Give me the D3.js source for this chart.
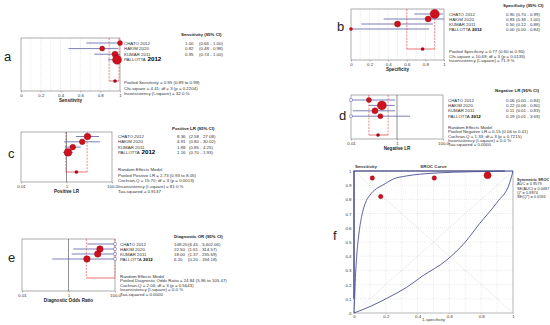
<!DOCTYPE html>
<html lang="en">
<head>
<meta charset="UTF-8">
<title>Forest plots and SROC curve</title>
<script src="https://cdn.jsdelivr.net/npm/d3@7"></script>
<style>
  body { margin: 0; background: #fff; }
  svg { display: block; font-family: "Liberation Sans", Arial, sans-serif; }
  .lbl { font-size: 4.4px; fill: #333; }
  .hdr { font-size: 4.4px; font-weight: bold; fill: #222; }
  .ttl { font-size: 4.6px; font-weight: bold; fill: #222; }
  .tick text { font-size: 4.4px; fill: #333; font-family: "Liberation Sans", Arial, sans-serif; }
  .letter { font-size: 13px; fill: #222; }
  .leg { font-size: 3.9px; fill: #333; }
</style>
</head>
<body>
<svg width="550" height="325"></svg>
<script>
// ---- data ----
const studies = ["CHATO", "HAKIM 2020", "KUMAR 2011", "PALLOTTA"];
const studyYear = ["2012", "", "", "2012"];

const sensEst = [1.00, 0.82, 0.95, 0.97];
const sensLo = [0.66, 0.48, 0.74, 0.88];
const sensHi = [1.00, 0.98, 1.00, 1.00];
const sensW = [15, 15, 22, 48];
const sensVal = [["1.00", "(0.66 - 1.00)"], ["0.82", "(0.48 - 0.98)"], ["0.95", "(0.74 - 1.00)"]];
const sensPooled = [0.95, 0.89, 0.99];
const sensStats = ["Pooled Sensitivity = 0.95 (0.89 to 0.99)", "Chi-square = 4.41; df = 3 (p = 0.2204)", "Inconsistency (I-square) = 32.0 %"];

const specEst = [0.90, 0.83, 0.50, 0.00];
const specLo = [0.68, 0.35, 0.11, 0.00];
const specHi = [0.99, 1.00, 0.88, 0.84];
const specW = [50, 22, 22, 6];
const specVal = [["0.90", "(0.70 - 0.99)"], ["0.83", "(0.36 - 1.00)"], ["0.50", "(0.12 - 0.88)"], ["0.00", "(0.00 - 0.84)"]];
const specPooled = [0.77, 0.60, 0.90];
const specStats = ["Pooled Specificity = 0.77 (0.60 to 0.90)", "Chi-square = 10.69; df = 3 (p = 0.0135)", "Inconsistency (I-square) = 71.9 %"];

const plrEst = [8.36, 4.91, 1.89, 1.16];
const plrLo = [2.58, 0.80, 0.85, 0.70];
const plrHi = [27.08, 30.02, 4.25, 1.93];
const plrW = [26, 19, 19, 35];
const plrVal = [["8.36", "(2.58 - 27.08)"], ["4.91", "(0.80 - 30.02)"], ["1.89", "(0.85 - 4.25)"], ["1.16", "(0.70 - 1.93)"]];
const plrPooled = [2.73, 0.93, 8.05];
const plrStats = ["Random Effects Model", "Pooled Positive LR = 2.73 (0.93 to 8.05)", "Cochran-Q = 15.70; df = 3 (p = 0.0013)", "Inconsistency (I-square) = 81.0 %", "Tau-squared = 0.9137"];

const nlrEst = [0.06, 0.22, 0.11, 0.19];
const nlrLo = [0.005, 0.06, 0.012, 0.009];
const nlrHi = [0.84, 0.80, 0.83, 3.69];
const nlrW = [15, 48, 22, 15];
const nlrVal = [["0.06", "(0.00 - 0.84)"], ["0.22", "(0.06 - 0.80)"], ["0.11", "(0.01 - 0.83)"], ["0.19", "(0.01 - 3.69)"]];
const nlrPooled = [0.15, 0.06, 0.41];
const nlrStats = ["Random Effects Model", "Pooled Negative LR = 0.15 (0.06 to 0.41)", "Cochran-Q = 1.33; df = 3 (p = 0.7215)", "Inconsistency (I-square) = 0.0 %", "Tau-squared = 0.0000"];

const dorEst = [148.20, 22.50, 18.00, 6.20];
const dorLo = [6.45, 1.61, 1.37, 0.20];
const dorHi = [3402.06, 314.57, 235.69, 194.18];
const dorW = [25, 25, 25, 25];
const dorVal = [["148.20", "(6.45 - 3,402.06)"], ["22.50", "(1.61 - 314.57)"], ["18.00", "(1.37 - 235.69)"], ["6.20", "(0.20 - 194.18)"]];
const dorPooled = [24.84, 5.86, 105.47];
const dorStats = ["Random Effects Model", "Pooled Diagnostic Odds Ratio = 24.84 (5.86 to 105.47)", "Cochran-Q = 2.04; df = 3 (p = 0.5643)", "Inconsistency (I-square) = 0.0 %", "Tau-squared = 0.0000"];

// SROC (x = 1-specificity, y = sensitivity)
const srocFpr = [0.115, 0.168, 0.505, 0.84];
const srocTpr = [0.95, 0.82, 0.95, 0.97];
const srocW = [12, 12, 12, 30];
const srocCurve = [[0, 0], [0.004, 0.1], [0.009, 0.25], [0.017, 0.40], [0.03, 0.55], [0.048, 0.68], [0.07, 0.77], [0.10, 0.83], [0.14, 0.875], [0.18, 0.90], [0.25, 0.945], [0.33, 0.965], [0.5, 0.985], [0.75, 0.995], [1, 1]];
const srocLower = [[0, 0], [0.1, 0.045], [0.226, 0.115], [0.33, 0.18], [0.43, 0.26], [0.58, 0.37], [0.7, 0.50], [0.79, 0.63], [0.9, 0.78], [0.98, 0.92], [1, 1]];
const srocBand = [[0, 0.1], [0, 1], [0.95, 1]];
const srocStats = ["Symmetric SROC", "AUC = 0.9579", "SE(AUC) = 0.0487", "Q* = 0.8974", "SE(Q*) = 0.0594"];

const linTicks = [0, 0.2, 0.4, 0.6, 0.8, 1];
const logTicks = [0.01, 1, 100];
const logTickText = ["0.01", "1", "100.0"];

// ---- drawing ----
const svg = d3.select("svg");
const rScale = d3.scaleSqrt().domain([0, 50]).range([0, 4.6]);
const ciColor = "#5c61a3";
const red = "#d0101c";

function forest(o) {
  const g = svg.append("g");
  const x = (o.log ? d3.scaleLog() : d3.scaleLinear()).domain(o.domain).range([o.x0, o.x1]);
  const cx = v => x(Math.max(o.domain[0], Math.min(o.domain[1], v)));
  const rowY = i => o.y0 + o.rowTop + i * o.rowStep;

  // grid lines
  if (!o.log) {
    g.selectAll(".grid").data(d3.range(1, 10).map(d => d / 10)).join("line")
      .attr("x1", d => x(d)).attr("x2", d => x(d))
      .attr("y1", o.y0).attr("y2", o.y1)
      .attr("stroke", "#c8c8c8").attr("stroke-width", 0.4).attr("stroke-dasharray", "1,1");
  }
  g.append("rect").attr("x", o.x0).attr("y", o.y0)
    .attr("width", o.x1 - o.x0).attr("height", o.y1 - o.y0)
    .attr("fill", "none").attr("stroke", "#777").attr("stroke-width", 0.6);
  if (o.log) {
    g.append("line").attr("x1", x(1)).attr("x2", x(1)).attr("y1", o.y0).attr("y2", o.y1)
      .attr("stroke", "#444").attr("stroke-width", 0.6);
  }

  // axis
  const axis = d3.axisBottom(x).tickSize(1.5).tickPadding(1.2)
    .tickValues(o.log ? logTicks : linTicks)
    .tickFormat((d, i) => o.log ? logTickText[i] : d3.format("")(d));
  const ag = g.append("g").attr("transform", `translate(0,${o.y1})`).call(axis);
  ag.select(".domain").remove();
  ag.selectAll(".tick line").attr("stroke", "#777").attr("stroke-width", 0.5);
  g.append("text").attr("class", "ttl").attr("x", (o.x0 + o.x1) / 2).attr("y", o.y1 + 10.5)
    .attr("text-anchor", "middle").text(o.title);

  // pooled bracket
  const py = o.pooledY;
  [o.pooled[1], o.pooled[2]].forEach(v => {
    g.append("line").attr("x1", cx(v)).attr("x2", cx(v)).attr("y1", o.y0).attr("y2", py)
      .attr("stroke", "#e03a3a").attr("stroke-width", 0.6).attr("stroke-dasharray", "2,1.2");
  });
  g.append("line").attr("x1", cx(o.pooled[1])).attr("x2", cx(o.pooled[2])).attr("y1", py).attr("y2", py)
    .attr("stroke", "#e03a3a").attr("stroke-width", 0.7);
  if (o.pooledDot) {
    g.append("circle").attr("cx", cx(o.pooled[0])).attr("cy", py).attr("r", 1.6)
      .attr("fill", "#b0001a").attr("stroke", "#6a0010").attr("stroke-width", 0.3);
  }

  // study CIs
  o.est.forEach((e, i) => {
    const y = rowY(i);
    g.append("line").attr("x1", cx(o.lo[i])).attr("x2", cx(o.hi[i])).attr("y1", y).attr("y2", y)
      .attr("stroke", ciColor).attr("stroke-width", 0.8);
    [[o.lo[i], o.domain[0]], [o.hi[i], o.domain[1]]].forEach(([v, edge], k) => {
      const out = k === 0 ? v <= edge : v >= edge;
      if (o.log && out) {
        g.append("rect").attr("x", x(edge) - 1.2).attr("y", y - 1.2).attr("width", 2.4).attr("height", 2.4)
          .attr("fill", "#fff").attr("stroke", ciColor).attr("stroke-width", 0.5);
      }
    });
    if (e >= o.domain[0] && e <= o.domain[1]) {
      g.append("circle").attr("cx", x(e)).attr("cy", y).attr("r", rScale(o.w[i]))
        .attr("fill", red).attr("stroke", "#7a0010").attr("stroke-width", 0.35);
    }
    // study label
    const t = g.append("text").attr("class", "lbl").attr("x", o.labX).attr("y", y + 1.5);
    t.append("tspan").text(studies[i]);
    if (studyYear[i]) {
      const big = i === 3 && o.bigYear;
      t.append("tspan").text(" " + studyYear[i])
        .style("font-weight", i === 3 ? "bold" : "normal")
        .style("font-size", big ? "6.2px" : null)
        .style("fill", i === 3 ? "#000" : null);
    }
  });

  // value columns
  g.append("text").attr("class", "hdr").attr("x", o.hdrX).attr("y", o.hdrY).text(o.header);
  o.val.forEach((v, i) => {
    g.append("text").attr("class", "lbl").attr("x", o.valX).attr("y", rowY(i) + 1.5).text(v[0]);
    g.append("text").attr("class", "lbl").attr("x", o.valX + o.ciOff).attr("y", rowY(i) + 1.5).text(v[1]);
  });
  o.stats.forEach((s, i) => {
    g.append("text").attr("class", "lbl").attr("x", o.labX).attr("y", o.statsY + i * o.statsStep).text(s);
  });

  svg.append("text").attr("class", "letter").attr("x", o.letter[0]).attr("y", o.letter[1]).text(o.letter[2]);
}

forest({ domain: [0, 1], x0: 21, x1: 120, y0: 38, y1: 91, rowTop: 5, rowStep: 5.6, pooledY: 81,
  est: sensEst, lo: sensLo, hi: sensHi, w: sensW, pooled: sensPooled, pooledDot: true, bigYear: true,
  labX: 124, hdrX: 181, hdrY: 36, header: "Sensitivity (95% CI)", valX: 185, ciOff: 14, val: sensVal,
  stats: sensStats, statsY: 84, statsStep: 5.6, title: "Sensitivity", letter: [4, 61, "a"] });

forest({ domain: [0, 1], x0: 351, x1: 444, y0: 9, y1: 60, rowTop: 5, rowStep: 5, pooledY: 49,
  est: specEst, lo: specLo, hi: specHi, w: specW, pooled: specPooled, pooledDot: true,
  labX: 449, hdrX: 503, hdrY: 7, header: "Specificity (95% CI)", valX: 506, ciOff: 10, val: specVal,
  stats: specStats, statsY: 53, statsStep: 4.6, title: "Specificity", letter: [337, 31, "b"] });

forest({ log: true, domain: [0.01, 100], x0: 21, x1: 112, y0: 132, y1: 182, rowTop: 4.5, rowStep: 5.3, pooledY: 172,
  est: plrEst, lo: plrLo, hi: plrHi, w: plrW, pooled: plrPooled, pooledDot: true, bigYear: true,
  labX: 118, hdrX: 172, hdrY: 129.5, header: "Positive LR (95% CI)", valX: 177, ciOff: 12, val: plrVal,
  stats: plrStats, statsStep: 5.5, statsY: 171, title: "Positive LR", letter: [8, 158, "c"] });

forest({ log: true, domain: [0.01, 100], x0: 351, x1: 443, y0: 95, y1: 139, rowTop: 5, rowStep: 5.4, pooledY: 135,
  est: nlrEst, lo: nlrLo, hi: nlrHi, w: nlrW, pooled: nlrPooled, pooledDot: true,
  labX: 448, hdrX: 495, hdrY: 92, header: "Negative LR (95% CI)", valX: 506, ciOff: 10, val: nlrVal,
  stats: nlrStats, statsStep: 4.3, statsY: 129, title: "Negative LR", letter: [339, 120, "d"] });

forest({ log: true, domain: [0.01, 100], x0: 22, x1: 115, y0: 239, y1: 291, rowTop: 5, rowStep: 5, pooledY: 278,
  est: dorEst, lo: dorLo, hi: dorHi, w: dorW, pooled: dorPooled, pooledDot: false,
  labX: 120, hdrX: 174, hdrY: 238, header: "Diagnostic OR (95% CI)", valX: 174, ciOff: 14, val: dorVal,
  stats: dorStats, statsStep: 4.4, statsY: 278, title: "Diagnostic Odds Ratio", letter: [8, 262, "e"] });

// ---- SROC panel ----
(function () {
  const x0 = 354, x1 = 513, y0 = 171, y1 = 313;
  const g = svg.append("g");
  const x = d3.scaleLinear().domain([0, 1]).range([x0, x1]);
  const y = d3.scaleLinear().domain([0, 1]).range([y1, y0]);
  const tenths = d3.range(1, 10).map(d => d / 10);

  g.selectAll(".vg").data(tenths).join("line")
    .attr("x1", d => x(d)).attr("x2", d => x(d)).attr("y1", y0).attr("y2", y1)
    .attr("stroke", "#d0d0d0").attr("stroke-width", 0.4).attr("stroke-dasharray", "1,1");
  g.selectAll(".hg").data(tenths).join("line")
    .attr("y1", d => y(d)).attr("y2", d => y(d)).attr("x1", x0).attr("x2", x1)
    .attr("stroke", "#d0d0d0").attr("stroke-width", 0.4).attr("stroke-dasharray", "1,1");
  [[0, 0, 1, 1], [0, 1, 1, 0]].forEach(d => {
    g.append("line").attr("x1", x(d[0])).attr("y1", y(d[1])).attr("x2", x(d[2])).attr("y2", y(d[3]))
      .attr("stroke", "#dcdcdc").attr("stroke-width", 0.5);
  });
  g.append("rect").attr("x", x0).attr("y", y0).attr("width", x1 - x0).attr("height", y1 - y0)
    .attr("fill", "none").attr("stroke", "#888").attr("stroke-width", 0.6);

  const line = d3.line().x(d => x(d[0])).y(d => y(d[1])).curve(d3.curveMonotoneX);
  g.append("path").attr("d", d3.line().x(d => x(d[0])).y(d => y(d[1]))(srocBand))
    .attr("fill", "none").attr("stroke", "#2c3080").attr("stroke-width", 1.2);
  g.append("path").attr("d", line(srocCurve)).attr("fill", "none").attr("stroke", "#4a4f98").attr("stroke-width", 0.9);
  g.append("path").attr("d", line(srocLower)).attr("fill", "none").attr("stroke", "#4a4f98").attr("stroke-width", 0.9);

  srocFpr.forEach((f, i) => {
    g.append("circle").attr("cx", x(f)).attr("cy", y(srocTpr[i])).attr("r", rScale(srocW[i]))
      .attr("fill", red).attr("stroke", "#7a0010").attr("stroke-width", 0.35);
  });

  const xa = g.append("g").attr("transform", `translate(0,${y1})`)
    .call(d3.axisBottom(x).tickValues(linTicks).tickFormat(d3.format("")).tickSize(1).tickPadding(1));
  xa.select(".domain").remove();
  const ya = g.append("g").attr("transform", `translate(${x0},0)`)
    .call(d3.axisLeft(y).tickValues(d3.range(0, 11).map(d => d / 10)).tickFormat(d3.format("")).tickSize(1).tickPadding(1.5));
  ya.select(".domain").remove();
  g.selectAll(".tick line").attr("stroke", "#888").attr("stroke-width", 0.4);

  g.append("text").attr("class", "lbl").attr("x", x0 + 1).attr("y", y0 - 3).style("font-weight", "bold").text("Sensitivity");
  g.append("text").attr("class", "lbl").attr("x", x(0.5)).attr("y", y0 - 3).attr("text-anchor", "middle").style("font-weight", "bold").text("SROC Curve");
  g.append("text").attr("class", "lbl").attr("x", x(0.5)).attr("y", y1 + 8).attr("text-anchor", "middle").text("1-specificity");
  srocStats.forEach((s, i) => {
    g.append("text").attr("class", "leg").attr("x", x1 + 4).attr("y", y0 + 10 + i * 4.3)
      .style("font-weight", i === 0 ? "bold" : "normal").text(s);
  });
  svg.append("text").attr("class", "letter").attr("x", 333).attr("y", 240).text("f");
})();
</script>
</body>
</html>
